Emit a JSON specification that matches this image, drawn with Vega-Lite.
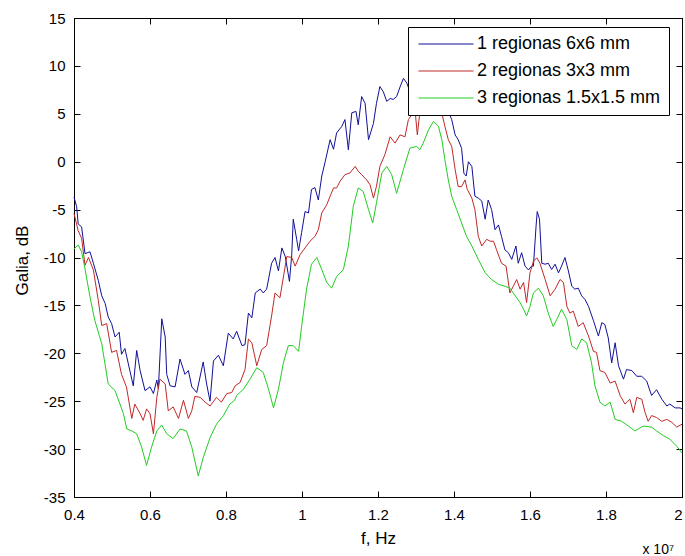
{
  "$schema": "https://vega.github.io/schema/vega-lite/v6.json",
  "width": 608,
  "height": 479,
  "autosize": "none",
  "padding": {"left": 74, "top": 18, "right": 3, "bottom": 59},
  "background": "white",
  "config": {
    "font": "Liberation Sans",
    "view": {"stroke": "black", "strokeWidth": 1}
  },
  "title": {"text": "x 10⁷", "orient": "bottom", "anchor": "end", "fontSize": 14, "fontWeight": "normal", "color": "black", "offset": -3, "dx": -10},
  "data": {"values": [
{"s":"1 regionas 6x6 mm","f":0.4,"g":-3.7},{"s":"1 regionas 6x6 mm","f":0.407,"g":-4.7},{"s":"1 regionas 6x6 mm","f":0.411,"g":-6.5},{"s":"1 regionas 6x6 mm","f":0.42,"g":-6.8},{"s":"1 regionas 6x6 mm","f":0.429,"g":-9.6},{"s":"1 regionas 6x6 mm","f":0.442,"g":-9.4},{"s":"1 regionas 6x6 mm","f":0.451,"g":-10.6},{"s":"1 regionas 6x6 mm","f":0.464,"g":-12.4},{"s":"1 regionas 6x6 mm","f":0.473,"g":-14},{"s":"1 regionas 6x6 mm","f":0.482,"g":-14.8},{"s":"1 regionas 6x6 mm","f":0.49,"g":-16.2},{"s":"1 regionas 6x6 mm","f":0.499,"g":-16.9},{"s":"1 regionas 6x6 mm","f":0.508,"g":-18.3},{"s":"1 regionas 6x6 mm","f":0.519,"g":-17.8},{"s":"1 regionas 6x6 mm","f":0.525,"g":-20.1},{"s":"1 regionas 6x6 mm","f":0.534,"g":-19.5},{"s":"1 regionas 6x6 mm","f":0.543,"g":-21.1},{"s":"1 regionas 6x6 mm","f":0.556,"g":-23.4},{"s":"1 regionas 6x6 mm","f":0.565,"g":-19.7},{"s":"1 regionas 6x6 mm","f":0.574,"g":-21.8},{"s":"1 regionas 6x6 mm","f":0.587,"g":-23.9},{"s":"1 regionas 6x6 mm","f":0.6,"g":-23.5},{"s":"1 regionas 6x6 mm","f":0.609,"g":-24.2},{"s":"1 regionas 6x6 mm","f":0.618,"g":-22.8},{"s":"1 regionas 6x6 mm","f":0.622,"g":-23.7},{"s":"1 regionas 6x6 mm","f":0.631,"g":-16.4},{"s":"1 regionas 6x6 mm","f":0.64,"g":-18.3},{"s":"1 regionas 6x6 mm","f":0.644,"g":-22.2},{"s":"1 regionas 6x6 mm","f":0.653,"g":-23.4},{"s":"1 regionas 6x6 mm","f":0.666,"g":-23.5},{"s":"1 regionas 6x6 mm","f":0.679,"g":-20.6},{"s":"1 regionas 6x6 mm","f":0.692,"g":-22.2},{"s":"1 regionas 6x6 mm","f":0.701,"g":-21.8},{"s":"1 regionas 6x6 mm","f":0.71,"g":-23.5},{"s":"1 regionas 6x6 mm","f":0.723,"g":-24.1},{"s":"1 regionas 6x6 mm","f":0.74,"g":-20.9},{"s":"1 regionas 6x6 mm","f":0.749,"g":-23.2},{"s":"1 regionas 6x6 mm","f":0.758,"g":-25},{"s":"1 regionas 6x6 mm","f":0.767,"g":-20.8},{"s":"1 regionas 6x6 mm","f":0.78,"g":-20.2},{"s":"1 regionas 6x6 mm","f":0.793,"g":-21.3},{"s":"1 regionas 6x6 mm","f":0.806,"g":-17.9},{"s":"1 regionas 6x6 mm","f":0.819,"g":-18.5},{"s":"1 regionas 6x6 mm","f":0.828,"g":-17.7},{"s":"1 regionas 6x6 mm","f":0.842,"g":-19.2},{"s":"1 regionas 6x6 mm","f":0.85,"g":-19.1},{"s":"1 regionas 6x6 mm","f":0.859,"g":-15.8},{"s":"1 regionas 6x6 mm","f":0.868,"g":-16.3},{"s":"1 regionas 6x6 mm","f":0.877,"g":-13.7},{"s":"1 regionas 6x6 mm","f":0.89,"g":-13.3},{"s":"1 regionas 6x6 mm","f":0.898,"g":-13.7},{"s":"1 regionas 6x6 mm","f":0.907,"g":-13.3},{"s":"1 regionas 6x6 mm","f":0.92,"g":-10.6},{"s":"1 regionas 6x6 mm","f":0.929,"g":-10},{"s":"1 regionas 6x6 mm","f":0.938,"g":-11.4},{"s":"1 regionas 6x6 mm","f":0.947,"g":-9},{"s":"1 regionas 6x6 mm","f":0.956,"g":-9.9},{"s":"1 regionas 6x6 mm","f":0.967,"g":-12.5},{"s":"1 regionas 6x6 mm","f":0.973,"g":-9.7},{"s":"1 regionas 6x6 mm","f":0.977,"g":-6},{"s":"1 regionas 6x6 mm","f":0.986,"g":-8.1},{"s":"1 regionas 6x6 mm","f":0.991,"g":-9.3},{"s":"1 regionas 6x6 mm","f":0.999,"g":-7.4},{"s":"1 regionas 6x6 mm","f":1.008,"g":-5.2},{"s":"1 regionas 6x6 mm","f":1.017,"g":-5.35},{"s":"1 regionas 6x6 mm","f":1.025,"g":-2.9},{"s":"1 regionas 6x6 mm","f":1.034,"g":-2.7},{"s":"1 regionas 6x6 mm","f":1.043,"g":-4},{"s":"1 regionas 6x6 mm","f":1.052,"g":-1.5},{"s":"1 regionas 6x6 mm","f":1.061,"g":0},{"s":"1 regionas 6x6 mm","f":1.074,"g":2.3},{"s":"1 regionas 6x6 mm","f":1.083,"g":1.3},{"s":"1 regionas 6x6 mm","f":1.091,"g":3},{"s":"1 regionas 6x6 mm","f":1.105,"g":3.7},{"s":"1 regionas 6x6 mm","f":1.113,"g":4.4},{"s":"1 regionas 6x6 mm","f":1.122,"g":1.25},{"s":"1 regionas 6x6 mm","f":1.131,"g":5.1},{"s":"1 regionas 6x6 mm","f":1.142,"g":5.25},{"s":"1 regionas 6x6 mm","f":1.148,"g":3.85},{"s":"1 regionas 6x6 mm","f":1.157,"g":6.8},{"s":"1 regionas 6x6 mm","f":1.166,"g":6.1},{"s":"1 regionas 6x6 mm","f":1.175,"g":2.3},{"s":"1 regionas 6x6 mm","f":1.188,"g":4},{"s":"1 regionas 6x6 mm","f":1.196,"g":6.1},{"s":"1 regionas 6x6 mm","f":1.205,"g":7.85},{"s":"1 regionas 6x6 mm","f":1.214,"g":7.3},{"s":"1 regionas 6x6 mm","f":1.223,"g":6.3},{"s":"1 regionas 6x6 mm","f":1.232,"g":6.6},{"s":"1 regionas 6x6 mm","f":1.24,"g":6.5},{"s":"1 regionas 6x6 mm","f":1.249,"g":6.8},{"s":"1 regionas 6x6 mm","f":1.258,"g":7.8},{"s":"1 regionas 6x6 mm","f":1.267,"g":8.7},{"s":"1 regionas 6x6 mm","f":1.276,"g":8.2},{"s":"1 regionas 6x6 mm","f":1.285,"g":7.2},{"s":"1 regionas 6x6 mm","f":1.295,"g":8.8},{"s":"1 regionas 6x6 mm","f":1.305,"g":7.5},{"s":"1 regionas 6x6 mm","f":1.315,"g":9.2},{"s":"1 regionas 6x6 mm","f":1.325,"g":8.3},{"s":"1 regionas 6x6 mm","f":1.335,"g":9.5},{"s":"1 regionas 6x6 mm","f":1.345,"g":8.4},{"s":"1 regionas 6x6 mm","f":1.355,"g":7.6},{"s":"1 regionas 6x6 mm","f":1.365,"g":7},{"s":"1 regionas 6x6 mm","f":1.375,"g":6.2},{"s":"1 regionas 6x6 mm","f":1.385,"g":5.24},{"s":"1 regionas 6x6 mm","f":1.394,"g":4.4},{"s":"1 regionas 6x6 mm","f":1.403,"g":2.8},{"s":"1 regionas 6x6 mm","f":1.411,"g":2.3},{"s":"1 regionas 6x6 mm","f":1.42,"g":1.4},{"s":"1 regionas 6x6 mm","f":1.426,"g":-1.2},{"s":"1 regionas 6x6 mm","f":1.432,"g":-1.5},{"s":"1 regionas 6x6 mm","f":1.438,"g":0},{"s":"1 regionas 6x6 mm","f":1.447,"g":-0.5},{"s":"1 regionas 6x6 mm","f":1.455,"g":-3.6},{"s":"1 regionas 6x6 mm","f":1.464,"g":-3.8},{"s":"1 regionas 6x6 mm","f":1.473,"g":-4.1},{"s":"1 regionas 6x6 mm","f":1.482,"g":-6},{"s":"1 regionas 6x6 mm","f":1.49,"g":-4},{"s":"1 regionas 6x6 mm","f":1.499,"g":-5},{"s":"1 regionas 6x6 mm","f":1.508,"g":-7.1},{"s":"1 regionas 6x6 mm","f":1.517,"g":-6.6},{"s":"1 regionas 6x6 mm","f":1.525,"g":-7.8},{"s":"1 regionas 6x6 mm","f":1.534,"g":-9.2},{"s":"1 regionas 6x6 mm","f":1.543,"g":-9.5},{"s":"1 regionas 6x6 mm","f":1.552,"g":-10.2},{"s":"1 regionas 6x6 mm","f":1.563,"g":-8.8},{"s":"1 regionas 6x6 mm","f":1.569,"g":-10.6},{"s":"1 regionas 6x6 mm","f":1.578,"g":-9.5},{"s":"1 regionas 6x6 mm","f":1.587,"g":-10.9},{"s":"1 regionas 6x6 mm","f":1.596,"g":-11.3},{"s":"1 regionas 6x6 mm","f":1.604,"g":-10.9},{"s":"1 regionas 6x6 mm","f":1.609,"g":-10.9},{"s":"1 regionas 6x6 mm","f":1.616,"g":-6.7},{"s":"1 regionas 6x6 mm","f":1.619,"g":-5.2},{"s":"1 regionas 6x6 mm","f":1.625,"g":-6},{"s":"1 regionas 6x6 mm","f":1.631,"g":-10.6},{"s":"1 regionas 6x6 mm","f":1.64,"g":-10.7},{"s":"1 regionas 6x6 mm","f":1.648,"g":-10.6},{"s":"1 regionas 6x6 mm","f":1.657,"g":-11.25},{"s":"1 regionas 6x6 mm","f":1.666,"g":-10.7},{"s":"1 regionas 6x6 mm","f":1.675,"g":-11.6},{"s":"1 regionas 6x6 mm","f":1.683,"g":-10.9},{"s":"1 regionas 6x6 mm","f":1.692,"g":-10},{"s":"1 regionas 6x6 mm","f":1.701,"g":-11.4},{"s":"1 regionas 6x6 mm","f":1.71,"g":-13},{"s":"1 regionas 6x6 mm","f":1.718,"g":-13.3},{"s":"1 regionas 6x6 mm","f":1.727,"g":-13.2},{"s":"1 regionas 6x6 mm","f":1.736,"g":-14},{"s":"1 regionas 6x6 mm","f":1.745,"g":-14.4},{"s":"1 regionas 6x6 mm","f":1.754,"g":-15.1},{"s":"1 regionas 6x6 mm","f":1.767,"g":-16.6},{"s":"1 regionas 6x6 mm","f":1.78,"g":-18.2},{"s":"1 regionas 6x6 mm","f":1.789,"g":-16.8},{"s":"1 regionas 6x6 mm","f":1.797,"g":-17},{"s":"1 regionas 6x6 mm","f":1.806,"g":-18.4},{"s":"1 regionas 6x6 mm","f":1.815,"g":-21},{"s":"1 regionas 6x6 mm","f":1.824,"g":-18.9},{"s":"1 regionas 6x6 mm","f":1.833,"g":-21.3},{"s":"1 regionas 6x6 mm","f":1.846,"g":-22.7},{"s":"1 regionas 6x6 mm","f":1.854,"g":-21.7},{"s":"1 regionas 6x6 mm","f":1.868,"g":-21.8},{"s":"1 regionas 6x6 mm","f":1.881,"g":-22.4},{"s":"1 regionas 6x6 mm","f":1.894,"g":-22.4},{"s":"1 regionas 6x6 mm","f":1.907,"g":-22.9},{"s":"1 regionas 6x6 mm","f":1.92,"g":-24.4},{"s":"1 regionas 6x6 mm","f":1.933,"g":-23.8},{"s":"1 regionas 6x6 mm","f":1.947,"g":-24.8},{"s":"1 regionas 6x6 mm","f":1.96,"g":-25.5},{"s":"1 regionas 6x6 mm","f":1.968,"g":-25.3},{"s":"1 regionas 6x6 mm","f":1.982,"g":-25.7},{"s":"1 regionas 6x6 mm","f":1.995,"g":-25.7},{"s":"1 regionas 6x6 mm","f":2.0,"g":-25.8},
{"s":"2 regionas 3x3 mm","f":0.4,"g":-5.4},{"s":"2 regionas 3x3 mm","f":0.411,"g":-7.2},{"s":"2 regionas 3x3 mm","f":0.42,"g":-8},{"s":"2 regionas 3x3 mm","f":0.429,"g":-10.8},{"s":"2 regionas 3x3 mm","f":0.438,"g":-10},{"s":"2 regionas 3x3 mm","f":0.451,"g":-11.3},{"s":"2 regionas 3x3 mm","f":0.464,"g":-14.5},{"s":"2 regionas 3x3 mm","f":0.473,"g":-17.1},{"s":"2 regionas 3x3 mm","f":0.486,"g":-16.9},{"s":"2 regionas 3x3 mm","f":0.499,"g":-19.9},{"s":"2 regionas 3x3 mm","f":0.512,"g":-19.7},{"s":"2 regionas 3x3 mm","f":0.525,"g":-22.2},{"s":"2 regionas 3x3 mm","f":0.538,"g":-23.5},{"s":"2 regionas 3x3 mm","f":0.552,"g":-26.8},{"s":"2 regionas 3x3 mm","f":0.56,"g":-25.3},{"s":"2 regionas 3x3 mm","f":0.574,"g":-26.3},{"s":"2 regionas 3x3 mm","f":0.582,"g":-27},{"s":"2 regionas 3x3 mm","f":0.591,"g":-25.8},{"s":"2 regionas 3x3 mm","f":0.6,"g":-26.3},{"s":"2 regionas 3x3 mm","f":0.609,"g":-28.4},{"s":"2 regionas 3x3 mm","f":0.618,"g":-24.6},{"s":"2 regionas 3x3 mm","f":0.626,"g":-22.7},{"s":"2 regionas 3x3 mm","f":0.64,"g":-23.2},{"s":"2 regionas 3x3 mm","f":0.648,"g":-26},{"s":"2 regionas 3x3 mm","f":0.661,"g":-25.6},{"s":"2 regionas 3x3 mm","f":0.675,"g":-26.8},{"s":"2 regionas 3x3 mm","f":0.688,"g":-24.9},{"s":"2 regionas 3x3 mm","f":0.701,"g":-26.8},{"s":"2 regionas 3x3 mm","f":0.71,"g":-26},{"s":"2 regionas 3x3 mm","f":0.718,"g":-24.5},{"s":"2 regionas 3x3 mm","f":0.732,"g":-24.6},{"s":"2 regionas 3x3 mm","f":0.745,"g":-25.1},{"s":"2 regionas 3x3 mm","f":0.758,"g":-25.5},{"s":"2 regionas 3x3 mm","f":0.775,"g":-24.6},{"s":"2 regionas 3x3 mm","f":0.788,"g":-25.1},{"s":"2 regionas 3x3 mm","f":0.802,"g":-24.2},{"s":"2 regionas 3x3 mm","f":0.815,"g":-24.1},{"s":"2 regionas 3x3 mm","f":0.824,"g":-23.4},{"s":"2 regionas 3x3 mm","f":0.837,"g":-23.05},{"s":"2 regionas 3x3 mm","f":0.85,"g":-21.7},{"s":"2 regionas 3x3 mm","f":0.859,"g":-18.5},{"s":"2 regionas 3x3 mm","f":0.868,"g":-18.9},{"s":"2 regionas 3x3 mm","f":0.881,"g":-21.3},{"s":"2 regionas 3x3 mm","f":0.894,"g":-19.6},{"s":"2 regionas 3x3 mm","f":0.907,"g":-19.2},{"s":"2 regionas 3x3 mm","f":0.92,"g":-16.1},{"s":"2 regionas 3x3 mm","f":0.929,"g":-13.7},{"s":"2 regionas 3x3 mm","f":0.942,"g":-14.2},{"s":"2 regionas 3x3 mm","f":0.96,"g":-9.9},{"s":"2 regionas 3x3 mm","f":0.973,"g":-10},{"s":"2 regionas 3x3 mm","f":0.982,"g":-10.9},{"s":"2 regionas 3x3 mm","f":0.995,"g":-9.7},{"s":"2 regionas 3x3 mm","f":1.008,"g":-9},{"s":"2 regionas 3x3 mm","f":1.021,"g":-8.3},{"s":"2 regionas 3x3 mm","f":1.034,"g":-7.8},{"s":"2 regionas 3x3 mm","f":1.043,"g":-7.1},{"s":"2 regionas 3x3 mm","f":1.052,"g":-5.35},{"s":"2 regionas 3x3 mm","f":1.065,"g":-4.5},{"s":"2 regionas 3x3 mm","f":1.074,"g":-3.6},{"s":"2 regionas 3x3 mm","f":1.083,"g":-2.74},{"s":"2 regionas 3x3 mm","f":1.091,"g":-2.74},{"s":"2 regionas 3x3 mm","f":1.1,"g":-2.05},{"s":"2 regionas 3x3 mm","f":1.113,"g":-1.35},{"s":"2 regionas 3x3 mm","f":1.126,"g":-1.18},{"s":"2 regionas 3x3 mm","f":1.14,"g":-0.49},{"s":"2 regionas 3x3 mm","f":1.148,"g":-1},{"s":"2 regionas 3x3 mm","f":1.157,"g":-1.35},{"s":"2 regionas 3x3 mm","f":1.17,"g":-1.9},{"s":"2 regionas 3x3 mm","f":1.179,"g":-2.4},{"s":"2 regionas 3x3 mm","f":1.188,"g":-3.8},{"s":"2 regionas 3x3 mm","f":1.196,"g":-2.57},{"s":"2 regionas 3x3 mm","f":1.205,"g":-0.49},{"s":"2 regionas 3x3 mm","f":1.218,"g":0.73},{"s":"2 regionas 3x3 mm","f":1.232,"g":2.6},{"s":"2 regionas 3x3 mm","f":1.245,"g":1.94},{"s":"2 regionas 3x3 mm","f":1.258,"g":2.8},{"s":"2 regionas 3x3 mm","f":1.271,"g":2.6},{"s":"2 regionas 3x3 mm","f":1.28,"g":4.4},{"s":"2 regionas 3x3 mm","f":1.289,"g":4.9},{"s":"2 regionas 3x3 mm","f":1.297,"g":5.6},{"s":"2 regionas 3x3 mm","f":1.3035,"g":2.8},{"s":"2 regionas 3x3 mm","f":1.31,"g":5.1},{"s":"2 regionas 3x3 mm","f":1.32,"g":5.8},{"s":"2 regionas 3x3 mm","f":1.33,"g":6.2},{"s":"2 regionas 3x3 mm","f":1.34,"g":5.7},{"s":"2 regionas 3x3 mm","f":1.35,"g":6.3},{"s":"2 regionas 3x3 mm","f":1.358,"g":5.6},{"s":"2 regionas 3x3 mm","f":1.368,"g":5.07},{"s":"2 regionas 3x3 mm","f":1.376,"g":3.7},{"s":"2 regionas 3x3 mm","f":1.385,"g":2.3},{"s":"2 regionas 3x3 mm","f":1.394,"g":1.6},{"s":"2 regionas 3x3 mm","f":1.403,"g":-0.8},{"s":"2 regionas 3x3 mm","f":1.411,"g":-2.6},{"s":"2 regionas 3x3 mm","f":1.42,"g":-2.6},{"s":"2 regionas 3x3 mm","f":1.429,"g":-1.9},{"s":"2 regionas 3x3 mm","f":1.435,"g":-2.9},{"s":"2 regionas 3x3 mm","f":1.447,"g":-3.8},{"s":"2 regionas 3x3 mm","f":1.455,"g":-5},{"s":"2 regionas 3x3 mm","f":1.464,"g":-7.8},{"s":"2 regionas 3x3 mm","f":1.473,"g":-8.8},{"s":"2 regionas 3x3 mm","f":1.486,"g":-8.1},{"s":"2 regionas 3x3 mm","f":1.495,"g":-8.3},{"s":"2 regionas 3x3 mm","f":1.504,"g":-8.3},{"s":"2 regionas 3x3 mm","f":1.512,"g":-9.2},{"s":"2 regionas 3x3 mm","f":1.525,"g":-10.6},{"s":"2 regionas 3x3 mm","f":1.537,"g":-10.9},{"s":"2 regionas 3x3 mm","f":1.547,"g":-13.7},{"s":"2 regionas 3x3 mm","f":1.556,"g":-13},{"s":"2 regionas 3x3 mm","f":1.565,"g":-12.3},{"s":"2 regionas 3x3 mm","f":1.574,"g":-13.3},{"s":"2 regionas 3x3 mm","f":1.583,"g":-12.6},{"s":"2 regionas 3x3 mm","f":1.591,"g":-14.7},{"s":"2 regionas 3x3 mm","f":1.6,"g":-11.6},{"s":"2 regionas 3x3 mm","f":1.609,"g":-10.4},{"s":"2 regionas 3x3 mm","f":1.618,"g":-10.03},{"s":"2 regionas 3x3 mm","f":1.626,"g":-10.6},{"s":"2 regionas 3x3 mm","f":1.64,"g":-12.3},{"s":"2 regionas 3x3 mm","f":1.653,"g":-14},{"s":"2 regionas 3x3 mm","f":1.666,"g":-13.3},{"s":"2 regionas 3x3 mm","f":1.679,"g":-12.3},{"s":"2 regionas 3x3 mm","f":1.688,"g":-12.6},{"s":"2 regionas 3x3 mm","f":1.697,"g":-15.1},{"s":"2 regionas 3x3 mm","f":1.705,"g":-15.8},{"s":"2 regionas 3x3 mm","f":1.714,"g":-15.6},{"s":"2 regionas 3x3 mm","f":1.727,"g":-17.2},{"s":"2 regionas 3x3 mm","f":1.74,"g":-16.8},{"s":"2 regionas 3x3 mm","f":1.754,"g":-18.2},{"s":"2 regionas 3x3 mm","f":1.767,"g":-19.8},{"s":"2 regionas 3x3 mm","f":1.775,"g":-19.9},{"s":"2 regionas 3x3 mm","f":1.784,"g":-21.8},{"s":"2 regionas 3x3 mm","f":1.797,"g":-22},{"s":"2 regionas 3x3 mm","f":1.811,"g":-23.1},{"s":"2 regionas 3x3 mm","f":1.824,"g":-22.9},{"s":"2 regionas 3x3 mm","f":1.837,"g":-24.4},{"s":"2 regionas 3x3 mm","f":1.85,"g":-25.3},{"s":"2 regionas 3x3 mm","f":1.863,"g":-24.8},{"s":"2 regionas 3x3 mm","f":1.872,"g":-26.2},{"s":"2 regionas 3x3 mm","f":1.881,"g":-24.6},{"s":"2 regionas 3x3 mm","f":1.894,"g":-24.8},{"s":"2 regionas 3x3 mm","f":1.903,"g":-26.2},{"s":"2 regionas 3x3 mm","f":1.911,"g":-27.1},{"s":"2 regionas 3x3 mm","f":1.92,"g":-26.5},{"s":"2 regionas 3x3 mm","f":1.933,"g":-26.7},{"s":"2 regionas 3x3 mm","f":1.947,"g":-27.1},{"s":"2 regionas 3x3 mm","f":1.96,"g":-26.9},{"s":"2 regionas 3x3 mm","f":1.973,"g":-27.2},{"s":"2 regionas 3x3 mm","f":1.986,"g":-27.7},{"s":"2 regionas 3x3 mm","f":2.0,"g":-27.4},
{"s":"3 regionas 1.5x1.5 mm","f":0.4,"g":-9.1},{"s":"3 regionas 1.5x1.5 mm","f":0.411,"g":-8.7},{"s":"3 regionas 1.5x1.5 mm","f":0.42,"g":-9.4},{"s":"3 regionas 1.5x1.5 mm","f":0.429,"g":-11.2},{"s":"3 regionas 1.5x1.5 mm","f":0.442,"g":-14.1},{"s":"3 regionas 1.5x1.5 mm","f":0.455,"g":-16.6},{"s":"3 regionas 1.5x1.5 mm","f":0.473,"g":-19},{"s":"3 regionas 1.5x1.5 mm","f":0.49,"g":-23.2},{"s":"3 regionas 1.5x1.5 mm","f":0.508,"g":-23.9},{"s":"3 regionas 1.5x1.5 mm","f":0.521,"g":-25.3},{"s":"3 regionas 1.5x1.5 mm","f":0.53,"g":-26.3},{"s":"3 regionas 1.5x1.5 mm","f":0.539,"g":-27.9},{"s":"3 regionas 1.5x1.5 mm","f":0.552,"g":-28.1},{"s":"3 regionas 1.5x1.5 mm","f":0.565,"g":-28.4},{"s":"3 regionas 1.5x1.5 mm","f":0.578,"g":-29.8},{"s":"3 regionas 1.5x1.5 mm","f":0.591,"g":-31.7},{"s":"3 regionas 1.5x1.5 mm","f":0.604,"g":-29.8},{"s":"3 regionas 1.5x1.5 mm","f":0.618,"g":-28.1},{"s":"3 regionas 1.5x1.5 mm","f":0.631,"g":-27.5},{"s":"3 regionas 1.5x1.5 mm","f":0.644,"g":-28.4},{"s":"3 regionas 1.5x1.5 mm","f":0.661,"g":-28.9},{"s":"3 regionas 1.5x1.5 mm","f":0.679,"g":-27.9},{"s":"3 regionas 1.5x1.5 mm","f":0.696,"g":-28.1},{"s":"3 regionas 1.5x1.5 mm","f":0.71,"g":-29.8},{"s":"3 regionas 1.5x1.5 mm","f":0.727,"g":-32.8},{"s":"3 regionas 1.5x1.5 mm","f":0.74,"g":-30.9},{"s":"3 regionas 1.5x1.5 mm","f":0.758,"g":-28.8},{"s":"3 regionas 1.5x1.5 mm","f":0.775,"g":-27.4},{"s":"3 regionas 1.5x1.5 mm","f":0.793,"g":-26.5},{"s":"3 regionas 1.5x1.5 mm","f":0.81,"g":-25.3},{"s":"3 regionas 1.5x1.5 mm","f":0.823,"g":-24.9},{"s":"3 regionas 1.5x1.5 mm","f":0.828,"g":-24.4},{"s":"3 regionas 1.5x1.5 mm","f":0.846,"g":-23.75},{"s":"3 regionas 1.5x1.5 mm","f":0.863,"g":-22.7},{"s":"3 regionas 1.5x1.5 mm","f":0.881,"g":-21.5},{"s":"3 regionas 1.5x1.5 mm","f":0.898,"g":-22},{"s":"3 regionas 1.5x1.5 mm","f":0.912,"g":-23.75},{"s":"3 regionas 1.5x1.5 mm","f":0.925,"g":-25.7},{"s":"3 regionas 1.5x1.5 mm","f":0.938,"g":-23.75},{"s":"3 regionas 1.5x1.5 mm","f":0.951,"g":-21},{"s":"3 regionas 1.5x1.5 mm","f":0.964,"g":-19.2},{"s":"3 regionas 1.5x1.5 mm","f":0.977,"g":-19.2},{"s":"3 regionas 1.5x1.5 mm","f":0.991,"g":-19.8},{"s":"3 regionas 1.5x1.5 mm","f":0.999,"g":-17.2},{"s":"3 regionas 1.5x1.5 mm","f":1.012,"g":-13.3},{"s":"3 regionas 1.5x1.5 mm","f":1.025,"g":-10.7},{"s":"3 regionas 1.5x1.5 mm","f":1.039,"g":-10},{"s":"3 regionas 1.5x1.5 mm","f":1.052,"g":-11.25},{"s":"3 regionas 1.5x1.5 mm","f":1.065,"g":-12.6},{"s":"3 regionas 1.5x1.5 mm","f":1.078,"g":-13.2},{"s":"3 regionas 1.5x1.5 mm","f":1.091,"g":-12},{"s":"3 regionas 1.5x1.5 mm","f":1.109,"g":-11.25},{"s":"3 regionas 1.5x1.5 mm","f":1.122,"g":-8.8},{"s":"3 regionas 1.5x1.5 mm","f":1.135,"g":-4.65},{"s":"3 regionas 1.5x1.5 mm","f":1.148,"g":-2.74},{"s":"3 regionas 1.5x1.5 mm","f":1.161,"g":-3.1},{"s":"3 regionas 1.5x1.5 mm","f":1.175,"g":-5},{"s":"3 regionas 1.5x1.5 mm","f":1.186,"g":-6.4},{"s":"3 regionas 1.5x1.5 mm","f":1.196,"g":-4.3},{"s":"3 regionas 1.5x1.5 mm","f":1.21,"g":-1.18},{"s":"3 regionas 1.5x1.5 mm","f":1.223,"g":-0.49},{"s":"3 regionas 1.5x1.5 mm","f":1.236,"g":-1.35},{"s":"3 regionas 1.5x1.5 mm","f":1.249,"g":-3.3},{"s":"3 regionas 1.5x1.5 mm","f":1.267,"g":-0.8},{"s":"3 regionas 1.5x1.5 mm","f":1.284,"g":1.42},{"s":"3 regionas 1.5x1.5 mm","f":1.302,"g":1.6},{"s":"3 regionas 1.5x1.5 mm","f":1.31,"g":1.25},{"s":"3 regionas 1.5x1.5 mm","f":1.319,"g":1.94},{"s":"3 regionas 1.5x1.5 mm","f":1.333,"g":3.33},{"s":"3 regionas 1.5x1.5 mm","f":1.346,"g":4.2},{"s":"3 regionas 1.5x1.5 mm","f":1.359,"g":3.7},{"s":"3 regionas 1.5x1.5 mm","f":1.368,"g":2.3},{"s":"3 regionas 1.5x1.5 mm","f":1.376,"g":0.2},{"s":"3 regionas 1.5x1.5 mm","f":1.385,"g":-1.9},{"s":"3 regionas 1.5x1.5 mm","f":1.394,"g":-3.6},{"s":"3 regionas 1.5x1.5 mm","f":1.407,"g":-5},{"s":"3 regionas 1.5x1.5 mm","f":1.42,"g":-6.4},{"s":"3 regionas 1.5x1.5 mm","f":1.433,"g":-7.8},{"s":"3 regionas 1.5x1.5 mm","f":1.447,"g":-8.8},{"s":"3 regionas 1.5x1.5 mm","f":1.464,"g":-10.2},{"s":"3 regionas 1.5x1.5 mm","f":1.482,"g":-11.6},{"s":"3 regionas 1.5x1.5 mm","f":1.499,"g":-12.3},{"s":"3 regionas 1.5x1.5 mm","f":1.517,"g":-12.8},{"s":"3 regionas 1.5x1.5 mm","f":1.534,"g":-13},{"s":"3 regionas 1.5x1.5 mm","f":1.547,"g":-13.2},{"s":"3 regionas 1.5x1.5 mm","f":1.561,"g":-14},{"s":"3 regionas 1.5x1.5 mm","f":1.574,"g":-14.7},{"s":"3 regionas 1.5x1.5 mm","f":1.583,"g":-15.4},{"s":"3 regionas 1.5x1.5 mm","f":1.591,"g":-16.1},{"s":"3 regionas 1.5x1.5 mm","f":1.6,"g":-15.1},{"s":"3 regionas 1.5x1.5 mm","f":1.609,"g":-13.7},{"s":"3 regionas 1.5x1.5 mm","f":1.622,"g":-13.2},{"s":"3 regionas 1.5x1.5 mm","f":1.635,"g":-14},{"s":"3 regionas 1.5x1.5 mm","f":1.648,"g":-15.8},{"s":"3 regionas 1.5x1.5 mm","f":1.661,"g":-17.2},{"s":"3 regionas 1.5x1.5 mm","f":1.67,"g":-16.5},{"s":"3 regionas 1.5x1.5 mm","f":1.683,"g":-15.4},{"s":"3 regionas 1.5x1.5 mm","f":1.697,"g":-16.5},{"s":"3 regionas 1.5x1.5 mm","f":1.71,"g":-19.2},{"s":"3 regionas 1.5x1.5 mm","f":1.723,"g":-19.6},{"s":"3 regionas 1.5x1.5 mm","f":1.736,"g":-18.5},{"s":"3 regionas 1.5x1.5 mm","f":1.749,"g":-18.9},{"s":"3 regionas 1.5x1.5 mm","f":1.762,"g":-21},{"s":"3 regionas 1.5x1.5 mm","f":1.771,"g":-23.4},{"s":"3 regionas 1.5x1.5 mm","f":1.784,"g":-25.1},{"s":"3 regionas 1.5x1.5 mm","f":1.797,"g":-25.5},{"s":"3 regionas 1.5x1.5 mm","f":1.811,"g":-25.1},{"s":"3 regionas 1.5x1.5 mm","f":1.824,"g":-26.9},{"s":"3 regionas 1.5x1.5 mm","f":1.841,"g":-27.1},{"s":"3 regionas 1.5x1.5 mm","f":1.859,"g":-27.6},{"s":"3 regionas 1.5x1.5 mm","f":1.876,"g":-28.1},{"s":"3 regionas 1.5x1.5 mm","f":1.898,"g":-27.6},{"s":"3 regionas 1.5x1.5 mm","f":1.92,"g":-27.7},{"s":"3 regionas 1.5x1.5 mm","f":1.933,"g":-28.1},{"s":"3 regionas 1.5x1.5 mm","f":1.951,"g":-28.6},{"s":"3 regionas 1.5x1.5 mm","f":1.968,"g":-28.96},{"s":"3 regionas 1.5x1.5 mm","f":1.986,"g":-29.7},{"s":"3 regionas 1.5x1.5 mm","f":2.0,"g":-30.4}
  ]},
  "layer": [
    {
      "mark": {"type": "line", "strokeWidth": 1, "interpolate": "linear"},
      "encoding": {
        "x": {"field": "f", "type": "quantitative",
          "scale": {"domain": [0.4, 2], "nice": false, "zero": false},
          "axis": {"orient": "bottom", "values": [0.4,0.6,0.8,1,1.2,1.4,1.6,1.8,2], "format": "~g",
            "grid": false, "tickSize": -6, "labelPadding": 16, "labelFlush": false, "labelOverlap": false, "labelBound": false,
            "labelAlign": {"condition": {"test": "datum.value >= 2", "value": "right"}, "value": "center"},
            "labelFontSize": 15, "labelColor": "black", "domainColor": "black", "tickColor": "black",
            "title": "f, Hz", "titleFontSize": 17, "titleFontWeight": "normal", "titleColor": "black",
            "titleY": 46, "titleBaseline": "alphabetic"}},
        "y": {"field": "g", "type": "quantitative",
          "scale": {"domain": [-35, 15], "nice": false, "zero": false},
          "axis": {"orient": "left", "values": [-35,-30,-25,-20,-15,-10,-5,0,5,10,15], "labelExpr": "'' + datum.value",
            "grid": false, "tickSize": -6, "labelPadding": 15, "labelOverlap": false, "labelFlush": false, "labelBound": false,
            "labelFontSize": 15, "labelColor": "black", "domainColor": "black", "tickColor": "black",
            "title": "Galia, dB", "titleFontSize": 17, "titleFontWeight": "normal", "titleColor": "black",
            "titleX": -47, "titleY": 242, "titleAngle": 270, "titleBaseline": "alphabetic", "titleAlign": "center"}},
        "color": {"field": "s", "type": "nominal",
          "scale": {"domain": ["1 regionas 6x6 mm", "2 regionas 3x3 mm", "3 regionas 1.5x1.5 mm"], "range": ["#10109a", "#c02828", "#22cc22"]},
          "legend": {"orient": "none", "legendX": 334, "legendY": 9, "title": null,
            "fillColor": "white", "strokeColor": "black", "padding": 8, "rowPadding": 9,
            "labelFontSize": 18, "labelColor": "black", "labelLimit": 400,
            "symbolType": "M-1,0H21", "symbolSize": 25, "symbolStrokeWidth": 1, "symbolOffset": -4, "labelOffset": 47}}
      }
    },
    {
      "mark": {"type": "line", "opacity": 0},
      "encoding": {
        "x": {"field": "f", "type": "quantitative",
          "axis": {"orient": "top", "values": [0.4,0.6,0.8,1,1.2,1.4,1.6,1.8,2], "labels": false, "title": null, "grid": false,
            "tickSize": -6, "domainColor": "black", "tickColor": "black"}},
        "y": {"field": "g", "type": "quantitative",
          "axis": {"orient": "right", "values": [-35,-30,-25,-20,-15,-10,-5,0,5,10,15], "labels": false, "title": null, "grid": false,
            "tickSize": -6, "domainColor": "black", "tickColor": "black"}},
        "detail": {"field": "s", "type": "nominal"}
      }
    }
  ]
}
